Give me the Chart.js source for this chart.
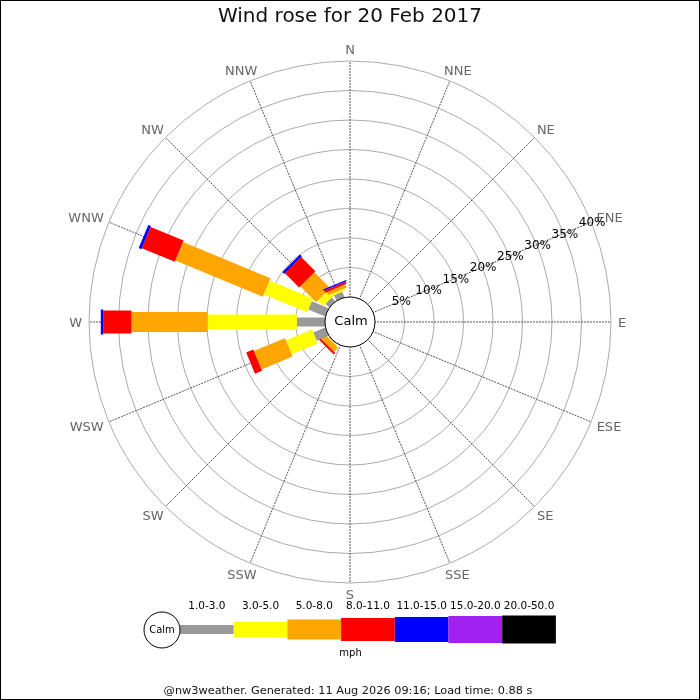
<!DOCTYPE html>
<html>
<head>
<meta charset="utf-8">
<title>Wind rose for 20 Feb 2017</title>
<script src="https://cdn.jsdelivr.net/npm/chart.js@4.4.1/dist/chart.umd.min.js"></script>
<style>
  html, body { margin: 0; padding: 0; background: #fff; }
  #rose { display: block; }
</style>
</head>
<body>
<canvas id="rose" width="700" height="700"></canvas>
<script>
// ===== DATA =====
const directions = ['N', 'NNE', 'NE', 'ENE', 'E', 'ESE', 'SE', 'SSE',
                    'S', 'SSW', 'SW', 'WSW', 'W', 'WNW', 'NW', 'NNW'];
const speedBands = ['1.0-3.0', '3.0-5.0', '5.0-8.0', '8.0-11.0', '11.0-15.0', '15.0-20.0', '20.0-50.0'];

// % of the day, per direction (N .. NNW), one array per speed band (mph)
const band1to3   = [0, 0, 0, 0, 0, 0, 0, 0, 0, 0, 0.15, 2.2, 4.75,  3.1,  0.9,  1.0];
const band3to5   = [0, 0, 0, 0, 0, 0, 0, 0, 0, 0, 0.15, 4.8, 15.15, 7.95, 1.3,  0.35];
const band5to8   = [0, 0, 0, 0, 0, 0, 0, 0, 0, 0, 0.95, 5.7, 12.9,  16.05, 3.8, 0.6];
const band8to11  = [0, 0, 0, 0, 0, 0, 0, 0, 0, 0, 0.35, 1.3, 4.8,   6.05, 3.4,  0.4];
const band11to15 = [0, 0, 0, 0, 0, 0, 0, 0, 0, 0, 0,    0,   0.4,   0.5,  0.45, 0.25];
const band15to20 = [0, 0, 0, 0, 0, 0, 0, 0, 0, 0, 0,    0,   0,     0,    0,    0];
const band20to50 = [0, 0, 0, 0, 0, 0, 0, 0, 0, 0, 0,    0,   0,     0,    0,    0];

const ringTicks = [5, 10, 15, 20, 25, 30, 35, 40];

// ===== STYLE =====
const FONT = 'DejaVu Sans';
const bandColors = ['#999999', '#ffff00', '#ffa500', '#ff0000', '#0000ff', '#a020f0', '#000000'];
const bandWidths = [9, 15, 20, 23, 25, 27, 28];   // bar thickness, px
const axisMin = -4.24;                             // leaves room for the calm circle
const tickDirection = 3;                           // ring labels run along ENE
const labelGap = 7;                                // direction labels, px outside the rim
const legendBox = { left: 180, blockW: 53.7, midY: 629.5, labelY: 606.5, calmR: 18 };

const bandData = [band1to3, band3to5, band5to8, band8to11, band11to15, band15to20, band20to50];

// ===== PLUGINS =====
const roseBars = {
  id: 'roseBars',
  afterDatasetsDraw(chart) {
    const scale = chart.scales.r;
    const ctx = chart.ctx;
    ctx.save();

    // compass labels just outside the rim
    ctx.font = `13px "${FONT}"`;
    ctx.fillStyle = '#666';
    ctx.textAlign = 'center';
    ctx.textBaseline = 'alphabetic';
    const capH = 13 * 0.729;
    directions.forEach((dir, i) => {
      const a = scale.getIndexAngle(i);
      const rim = scale.getPointPosition(i, scale.drawingArea);
      const hw = ctx.measureText(dir).width / 2;
      const x = rim.x + Math.sin(a) * (hw + labelGap);
      const y = rim.y - Math.cos(a) * (capH / 2 + labelGap);
      ctx.fillText(dir, x, y + capH / 2);
    });

    // stacked bars, one thickness per speed band
    ctx.lineCap = 'butt';
    directions.forEach((dir, i) => {
      let cum = 0;
      chart.data.datasets.forEach((ds, b) => {
        const v = ds.data[i];
        if (!v) return;
        const p0 = scale.getPointPositionForValue(i, cum);
        const p1 = scale.getPointPositionForValue(i, cum + v);
        ctx.strokeStyle = ds.barColor;
        ctx.lineWidth = bandWidths[b];
        ctx.beginPath();
        ctx.moveTo(p0.x, p0.y);
        ctx.lineTo(p1.x, p1.y);
        ctx.stroke();
        cum += v;
      });
    });

    // calm circle
    const rc = scale.getDistanceFromCenterForValue(0);
    ctx.beginPath();
    ctx.arc(scale.xCenter, scale.yCenter, rc, 0, Math.PI * 2);
    ctx.fillStyle = '#fff';
    ctx.fill();
    ctx.lineWidth = 1;
    ctx.strokeStyle = '#000';
    ctx.stroke();
    ctx.fillStyle = '#000';
    ctx.font = `13px "${FONT}"`;
    ctx.textAlign = 'center';
    ctx.textBaseline = 'middle';
    ctx.fillText('Calm', scale.xCenter + 1, scale.yCenter);

    // ring labels
    ctx.font = `12px "${FONT}"`;
    scale.ticks.forEach(t => {
      const p = scale.getPointPositionForValue(tickDirection, t.value);
      ctx.fillText(t.value + '%', p.x + 1, p.y + 1);
    });
    ctx.restore();
  },
  afterDraw(chart) {
    const ctx = chart.ctx;
    const L = legendBox;
    ctx.save();

    // speed legend
    speedBands.forEach((label, b) => {
      const x = L.left + b * L.blockW;
      const h = bandWidths[b];
      ctx.fillStyle = bandColors[b];
      ctx.fillRect(x, L.midY - h / 2, L.blockW, h);
      ctx.fillStyle = '#000';
      ctx.font = `10.5px "${FONT}"`;
      ctx.textAlign = 'center';
      ctx.textBaseline = 'middle';
      ctx.fillText(label, x + L.blockW / 2, L.labelY);
    });
    ctx.beginPath();
    ctx.arc(L.left - L.calmR, L.midY + 0.5, L.calmR, 0, Math.PI * 2);
    ctx.fillStyle = '#fff';
    ctx.fill();
    ctx.strokeStyle = '#000';
    ctx.lineWidth = 1;
    ctx.stroke();
    ctx.fillStyle = '#000';
    ctx.font = `10px "${FONT}"`;
    ctx.fillText('Calm', L.left - L.calmR, L.midY + 0.5);
    ctx.fillText('mph', 350.5, 653.5);

    // footer
    ctx.font = `11.3px "${FONT}"`;
    ctx.fillStyle = '#111';
    ctx.fillText('@nw3weather. Generated: 11 Aug 2026 09:16; Load time: 0.88 s', 348, 691.5);

    // frame
    ctx.strokeStyle = '#000';
    ctx.strokeRect(0.5, 0.5, chart.width - 1, chart.height - 1);
    ctx.restore();
  }
};

// ===== CHART =====
const config = {
  type: 'radar',
  data: {
    labels: directions,
    datasets: bandData.map((vals, b) => ({
      label: speedBands[b],
      data: vals,
      barColor: bandColors[b],
      showLine: false,
      fill: false,
      pointRadius: 0,
      pointHoverRadius: 0,
      borderWidth: 0,
      borderColor: 'transparent',
      backgroundColor: 'transparent'
    }))
  },
  options: {
    responsive: false,
    animation: false,
    events: [],
    layout: { padding: { top: 0, bottom: 117, left: 0, right: 0 } },
    plugins: {
      legend: { display: false },
      tooltip: { enabled: false },
      title: {
        display: true,
        text: 'Wind rose for 20 Feb 2017',
        color: '#111',
        font: { family: FONT, size: 20, weight: 'normal' },
        padding: { top: 5, bottom: 32 }
      }
    },
    scales: {
      r: {
        min: axisMin,
        max: 40,
        startAngle: 0,
        afterBuildTicks: s => { s.ticks = ringTicks.map(v => ({ value: v })); },
        ticks: { display: false },
        grid: { circular: true, color: '#aaaaaa', lineWidth: 1 },
        angleLines: { color: '#555', lineWidth: 1, borderDash: [2, 1] },
        pointLabels: { display: false }
      }
    }
  },
  plugins: [roseBars]
};

Chart.defaults.font.family = FONT;
new Chart(document.getElementById('rose'), config);
</script>
</body>
</html>
